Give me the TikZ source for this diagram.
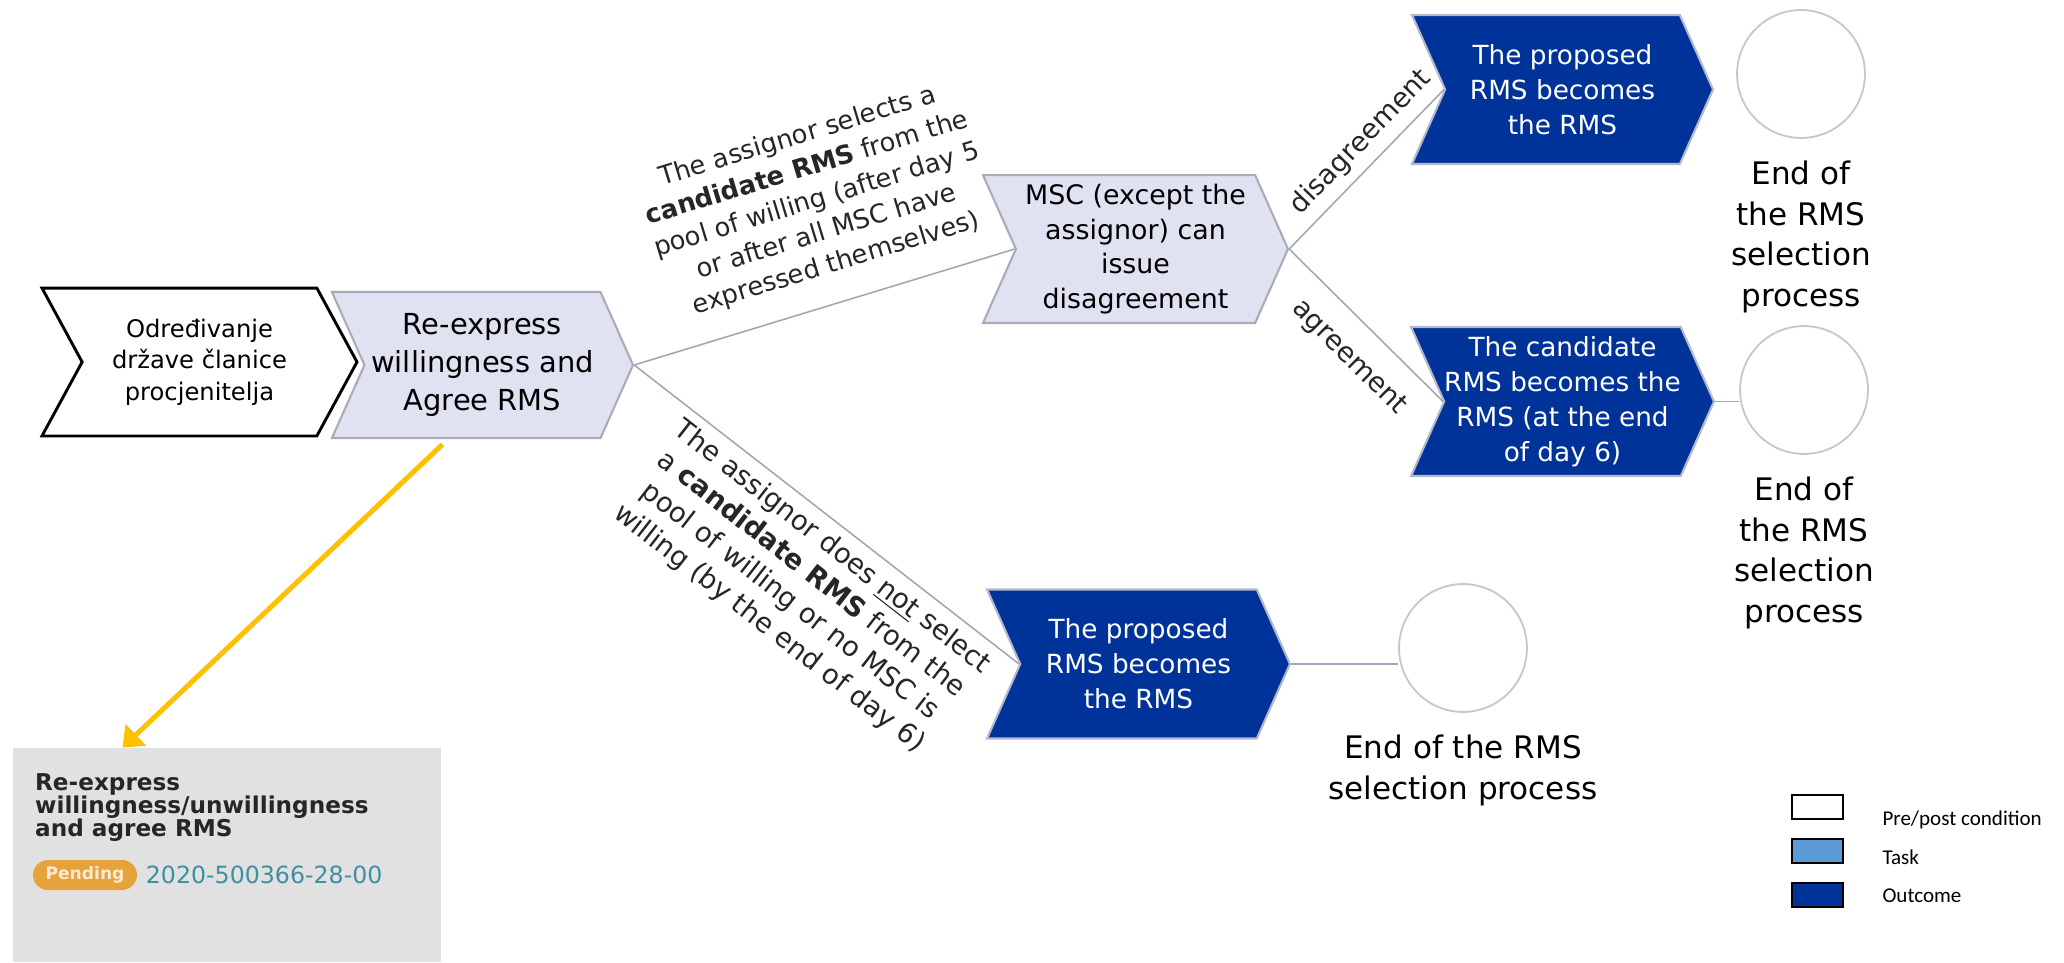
\documentclass[tikz,border=0pt]{standalone}
\usepackage{fontspec}
\setmainfont{DejaVu Sans}
\newfontfamily\legendfont{Carlito}
\usepackage{tikz}
\usetikzlibrary{shapes.symbols}
\usetikzlibrary{arrows.meta}
\usetikzlibrary{positioning}

\definecolor{taskfill}{HTML}{E0E2F2}
\definecolor{taskline}{HTML}{A9ABBA}
\definecolor{eublue}{HTML}{003399}
\definecolor{outline}{HTML}{B4B8CC}
\definecolor{connline}{HTML}{A3A6B8}
\definecolor{ringline}{HTML}{C8C8C8}
\definecolor{amber}{HTML}{FFC000}
\definecolor{screengray}{HTML}{E1E1E1}
\definecolor{pendfill}{HTML}{E6A33C}
\definecolor{pendtext}{HTML}{FCEBD2}
\definecolor{idteal}{HTML}{3F8FA3}
\definecolor{legblue}{HTML}{5B9BD5}

\begin{document}
\begin{tikzpicture}[x=0.38pt,y=-0.38pt,
  chev/.style={signal,signal to=east,signal from=west,signal pointer angle=132,inner sep=0pt,align=center},
  prestep/.style={chev,draw=black,line width=1.1pt,fill=white,signal pointer angle=123,minimum width=119.7pt,minimum height=56.2pt,font=\fontsize{9.2}{12}\selectfont},
  taskstep/.style={chev,draw=taskline,line width=0.8pt,fill=taskfill,minimum width=114.4pt,minimum height=55.5pt,font=\fontsize{11}{14.6}\selectfont},
  outstep/.style={chev,draw=outline,line width=0.8pt,fill=eublue,text=white,minimum width=114.4pt,minimum height=56.6pt,font=\fontsize{10}{13.3}\selectfont},
  endring/.style={circle,draw=ringline,line width=0.7pt,fill=white,minimum size=48.6pt,inner sep=0pt},
  endtext/.style={align=center,yshift=-5pt,font=\fontsize{11.8}{15.4}\selectfont},
  conn/.style={draw=connline,line width=0.6pt},
  branch/.style={sloped,align=center,text=black!85,font=\fontsize{10.4}{13}\selectfont},
  hint/.style={draw=amber,line width=1.9pt,-{Triangle[length=7pt,width=11pt]}},
  legbox/.style={draw=black,line width=0.8pt,minimum width=19.4pt,minimum height=9.1pt,inner sep=0pt},
  legtext/.style={anchor=west,inner sep=0pt,font=\legendfont\fontsize{8}{9.6}\selectfont}]
\useasboundingbox (0,0) rectangle (2064,962);

% flow
\node[prestep] (pre) at (199.5,362) {Određivanje\\države članice\\procjenitelja};
\node[taskstep] (task) at (482.5,365) {Re-express\\willingness and\\Agree RMS};
\node[taskstep,minimum width=115.9pt,minimum height=56.2pt,font=\fontsize{10.2}{13.2}\selectfont] (msc) at (1135.5,249) {MSC (except the\\assignor) can\\issue\\disagreement};
\node[outstep] (prop) at (1562.5,89.5) {The proposed\\RMS becomes\\the RMS};
\node[outstep] (cand) at (1562.5,401.5) {The candidate\\RMS becomes the\\RMS (at the end\\of day 6)};
\node[outstep,minimum width=115.1pt] (propb) at (1138.5,664) {The proposed\\RMS becomes\\the RMS};

% ends
\node[endring,label={[endtext]below:{End of\\the RMS\\selection\\process}}] (end1) at (1801,74) {};
\node[endring,label={[endtext]below:{End of\\the RMS\\selection\\process}}] (end2) at (1804,390) {};
\node[endring,label={[endtext]below:{End of the RMS\\selection process}}] (end3) at (1463,648) {};

\draw[conn] (task.east) -- node[branch,above=6pt,pos=0.56,font=\fontsize{9.8}{12.6}\selectfont] {The assignor selects a\\\textbf{candidate RMS} from the\\pool of willing (after day 5\\or after all MSC have\\expressed themselves)} (msc.west);
\draw[conn] (task.east) -- node[branch,below,pos=0.55] {The assignor does \underline{not} select\\a \textbf{candidate RMS} from the\\pool of willing or no MSC is\\willing (by the end of day 6)} (propb.west);
\draw[conn] (msc.east) -- node[branch,above,pos=0.57] {disagreement} (prop.west);
\draw[conn] (msc.east) -- node[branch,below=5pt,pos=0.55] {agreement} (cand.west);
\draw[conn] (cand.east) -- (cand.east -| end2.west);
\draw[conn] (propb.east) -- (propb.east -| end3.west);

% screenshot
\node[fill=screengray,minimum width=162.6pt,minimum height=81.3pt,inner sep=0pt] (screen) at (227,855) {};
\node[below right=9.9pt and 8.4pt of screen.north west,inner sep=0pt,align=left,text=black!85,
  font=\bfseries\fontsize{8.8}{8.6}\selectfont] (title) {Re-express\\willingness/unwillingness\\and agree RMS};
\node[fill=pendfill,rounded corners=5.7pt,minimum width=39.5pt,minimum height=11.4pt,inner sep=0pt,
  text=pendtext,font=\bfseries\fontsize{6.5}{7}\selectfont] (pend) at (85,875) {Pending};
\node[right=3pt of pend,inner sep=0pt,text=idteal,font=\fontsize{9}{10}\selectfont] (caseid) {2020-500366-28-00};
\draw[hint] ([xshift=-15.2pt,yshift=-2pt]task.south) -- ([xshift=41.8pt]screen.north west);

% legend
\node[legbox,fill=white] (lpre) at (1817.5,807) {};
\node[legbox,fill=legblue,below=6.8pt of lpre] (ltask) {};
\node[legbox,fill=eublue,below=6.8pt of ltask] (lout) {};
\node[legtext] at (1882,820) {Pre/post condition};
\node[legtext] at (1882,857) {Task};
\node[legtext] at (1882,896) {Outcome};
\end{tikzpicture}
\end{document}
